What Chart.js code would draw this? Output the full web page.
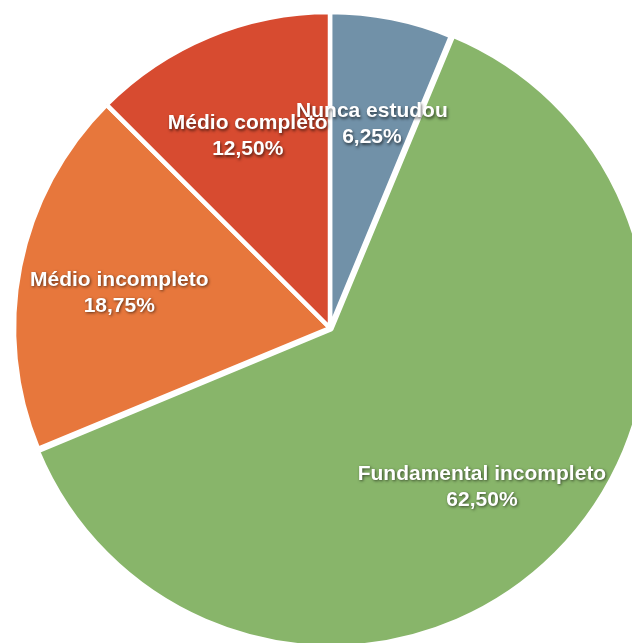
<!DOCTYPE html>
<html>
<head>
<meta charset="utf-8">
<script src="https://cdn.jsdelivr.net/npm/chart.js@4"></script>
<style>
  html, body { margin: 0; padding: 0; background: #ffffff; }
  #wrap { width: 632px; height: 643px; }
</style>
</head>
<body>
<div id="wrap"><canvas id="pieChart" width="632" height="643"></canvas></div>
<script>
const categories = ['Nunca estudou', 'Fundamental incompleto', 'Médio incompleto', 'Médio completo'];
const percentages = [6.25, 62.5, 18.75, 12.5];
const sliceColors = ['#7191a8', '#88b56a', '#e7773c', '#d74b30'];
const sliceOffsets = [0, 7, 0, 0];

// draws the two-line label (name + percent) inside each slice
const sliceLabels = {
    id: 'sliceLabels',
    afterDatasetsDraw(chart) {
        const ctx = chart.ctx;
        const meta = chart.getDatasetMeta(0);
        ctx.save();
        ctx.font = 'bold 21px "Liberation Sans", Arial, sans-serif';
        ctx.textAlign = 'center';
        ctx.textBaseline = 'middle';
        ctx.fillStyle = '#ffffff';
        ctx.shadowColor = 'rgba(0,0,0,0.6)';
        ctx.shadowOffsetX = 1;
        ctx.shadowOffsetY = 1.5;
        ctx.shadowBlur = 3;
        meta.data.forEach((arc, i) => {
            const p = arc.getProps(['x', 'y', 'startAngle', 'endAngle', 'outerRadius'], true);
            const mid = (p.startAngle + p.endAngle) / 2;
            const r = p.outerRadius * 0.68;
            const cx = p.x + Math.cos(mid) * r;
            const cy = p.y + Math.sin(mid) * r + 7;
            const pct = percentages[i].toFixed(2).replace('.', ',') + '%';
            ctx.fillText(categories[i], cx, cy - 13);
            ctx.fillText(pct, cx, cy + 13);
        });
        ctx.restore();
    }
};

new Chart(document.getElementById('pieChart').getContext('2d'), {
    type: 'pie',
    data: {
        labels: categories,
        datasets: [{
            data: percentages,
            backgroundColor: sliceColors,
            borderColor: '#ffffff',
            borderWidth: 4.5,
            offset: sliceOffsets,
            clip: false
        }]
    },
    options: {
        responsive: false,
        animation: false,
        radius: 316,
        layout: { padding: { left: 28, top: 13, right: 0, bottom: 0 } },
        plugins: {
            legend: { display: false },
            tooltip: { enabled: false }
        }
    },
    plugins: [sliceLabels]
});
</script>
</body>
</html>
